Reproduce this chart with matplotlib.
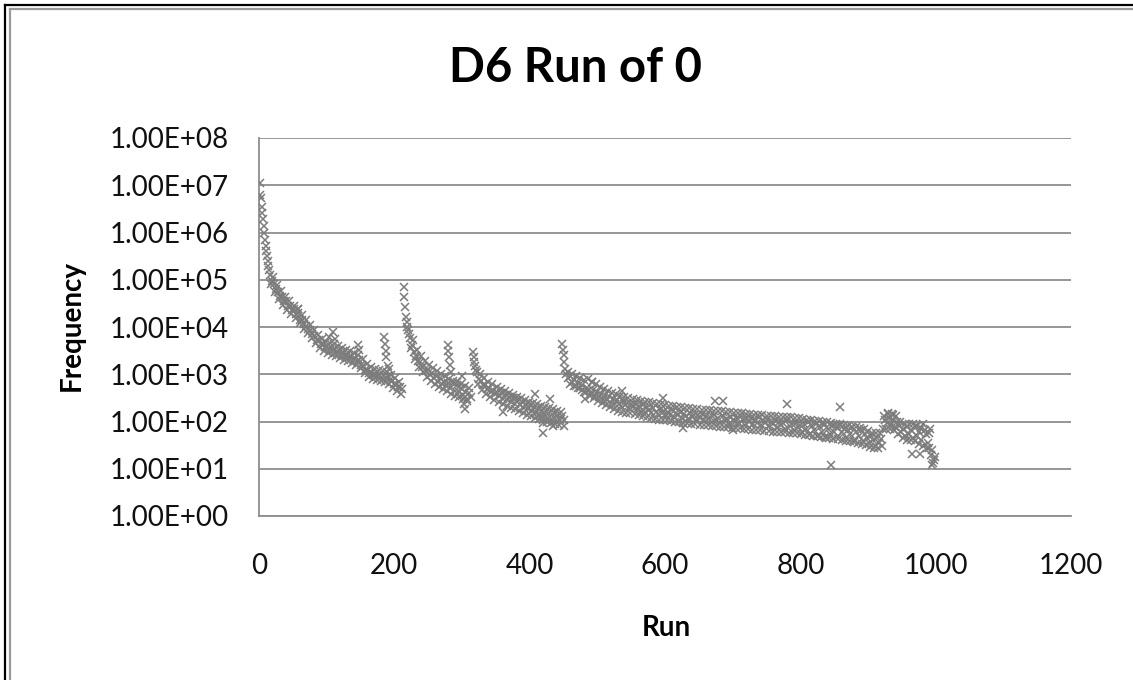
import matplotlib
matplotlib.use("Agg")
import matplotlib.pyplot as plt
from matplotlib.lines import Line2D
from matplotlib.ticker import FuncFormatter, NullLocator
import numpy as np

plt.rcParams["font.family"] = ["Lato", "DejaVu Sans"]

# 数据:游程长度 -> 频数(从图上读出,按段存放,每段每隔 3 个游程一列)
early_runs = [1, 2, 3, 4, 5, 6, 7, 8, 9, 10, 11, 12, 13, 14, 15]
early_freq = [1.1e7, 6.3e6, 5.4e6, 3.5e6, 2.6e6, 1.9e6, 1.35e6, 1.0e6,
              7.1e5, 5.2e5, 4.0e5, 3.2e5, 2.5e5, 2.0e5, 1.6e5]

STEP = 3
seg1_start = 16
seg1_freq = [1.26e5, 9.5e4, 8.3e4, 6.3e4, 5.6e4, 4.6e4, 4.4e4, 3.5e4, 3.5e4, 2.8e4,
             2.75e4, 2.3e4, 2.35e4, 1.9e4, 2.0e4, 1.4e4, 1.38e4, 1.15e4, 1.07e4, 8900,
             8500, 7100, 6600, 5400, 5200, 4400, 4300, 3800, 4000, 3500,
             3700, 3200, 3500, 3000, 3200, 2700, 2900, 2500, 2600, 2300,
             2400, 2100, 2200, 1900, 2000, 1600, 1500, 1260, 1260, 1070,
             1100, 950, 1000, 910, 980, 870, 930, 850, 910, 760,
             720, 630, 620, 550, 525, 480]
seg1b_start = 18
seg1b_freq = [8.1e4, 1.13e5, 5.4e4, 7.7e4, 3.85e4, 5.7e4, 2.9e4, 4.4e4, 2.3e4, 3.5e4,
              1.85e4, 2.85e4, 1.55e4, 2.35e4, 1.2e4, 1.8e4, 9200, 1.43e4, 7300, 1.12e4,
              5800, 8800, 4500, 6900, 3600, 5600, 3100, 4900, 2800, 4600,
              2600, 4300, 2400, 3900, 2200, 3600, 2050, 3300, 1900, 3050,
              1730, 2800, 1580, 2550, 1350, 2080, 1080, 1660, 880, 1400,
              785, 1290, 740, 1220, 710, 1170, 680, 1120, 615, 960,
              520, 820, 450, 700, 385]

seg2_start = 214
seg2_freq = [70000, 16000, 8500, 5800, 4200, 2900, 2400, 1900, 1800, 1450,
             1500, 1150, 1250, 950, 1050, 820, 900, 700, 820, 620,
             700, 560, 650, 500, 650, 450, 600, 420, 520, 360,
             430, 300, 400, 330]
seg2b_start = 224
seg2b_freq = [3600, 5200, 2070, 3200, 1430, 2450, 1100, 1930, 890, 1580,
              735, 1330, 630, 1150, 550, 1010, 485, 900, 435, 810,
              390, 730, 355, 670, 330, 620, 300, 560, 270, 500]

seg3_start = 316
seg3_freq = [2900, 1500, 1100, 780, 720, 580, 600, 480, 520, 420,
             470, 380, 430, 340, 400, 300, 360, 280, 330, 260,
             310, 230, 280, 220, 260, 190, 240, 180, 220, 170,
             200, 150, 190, 140, 175, 130, 165, 120, 160, 115,
             150, 110, 140, 105, 130, 110]
seg3b_start = 324
seg3b_freq = [610, 1030, 465, 830, 385, 700, 330, 615, 290, 545,
              265, 490, 235, 440, 215, 405, 195, 370, 180, 335,
              165, 310, 150, 285, 140, 265, 130, 245, 120, 230,
              115, 215, 107, 205, 100, 190, 95, 180, 90, 170,
              84, 160, 80]

seg4_start = 454
seg4_freq = [1000, 820, 900, 700, 760, 560, 640, 520, 580, 430,
             520, 470, 380, 460, 350, 420, 330, 390, 300, 360,
             280, 340, 250, 300, 230, 290, 240, 210, 270, 220,
             250, 190, 240, 200, 230, 180, 210, 170, 220, 160,
             200, 175, 150, 190, 160, 145, 180, 150, 170, 135,
             160, 140, 175, 125, 150, 135, 160, 120, 145, 130,
             115, 150, 125, 140, 110, 135, 120, 145, 105, 130,
             115, 125, 100, 140, 110, 120, 95, 130, 105, 115,
             90, 125, 110, 100, 120, 95, 130, 105, 85, 115,
             100, 120, 90, 110, 95, 125, 85, 105, 95, 115,
             80, 100, 90, 110, 75, 100, 85, 95, 70, 105,
             80, 90, 65, 95, 75, 85, 60, 90, 70, 100,
             55, 80, 65, 90, 50, 75, 60, 85, 45, 70,
             55, 80, 60, 75, 50, 85, 60, 70, 45, 65,
             55, 75, 40, 60, 50, 65, 38, 55, 45, 35,
             50, 40, 30, 45, 35, 42, 70, 110, 95, 120,
             85, 105, 75, 100, 80, 60, 70, 50, 75, 55,
             65, 45, 80, 50, 60, 40, 90, 55, 35, 70,
             25, 15]
seg4b_start = 456
seg4b_freq = [1100, 630, 1000, 570, 900, 520, 830, 470, 770, 430,
              780, 350, 700, 310, 610, 275, 550, 250, 490, 220,
              435, 200, 405, 185, 375, 170, 350, 160, 330, 155,
              320, 148, 305, 141, 290, 134, 275, 128, 265, 123,
              255, 118, 245, 114, 235, 110, 230, 108, 225, 105,
              218, 102, 212, 99, 206, 96, 200, 94, 195, 91,
              190, 88, 185, 87, 182, 85, 178, 84, 175, 83,
              172, 81, 170, 80, 167, 78, 164, 77, 160, 76,
              158, 74, 155, 73, 152, 72, 150, 70, 146, 69,
              143, 67, 140, 66, 138, 65, 135, 63, 132, 62,
              129, 61, 128, 60, 126, 59, 125, 59, 123, 58,
              122, 57, 119, 56, 116, 55, 113, 53, 110, 52,
              107, 50, 104, 49, 101, 48, 99, 46, 96, 45,
              93, 43, 90, 42, 87, 41, 84, 39, 81, 38,
              78, 37, 75, 35, 72, 34, 70, 32, 64, 29,
              58, 28, 58, 28, 58, 31, 130, 69, 145, 69,
              145, 66, 130, 55, 100, 45, 87, 41, 87, 41,
              87, 38, 80, 34, 72, 31, 65, 28, 58, 20,
              13]

# 尖峰、段首陡降和零散离群点
extra_runs = [57, 103, 110, 113, 146, 148, 185, 186, 187, 188, 190, 192,
              215, 216, 218, 219, 221,
              279, 280, 281, 282, 284, 300, 303, 305,
              317, 318, 320, 360, 408, 420, 420, 430, 435,
              448, 449, 450, 451, 452,
              482, 492, 536, 597, 627, 674, 686, 700, 780, 845, 858,
              930, 937, 965, 977, 990, 995, 999]
extra_freq = [24000, 6200, 8000, 5500, 4200, 3200, 6000, 4400, 3100, 2300, 1500, 1300,
              43000, 27000, 12500, 10000, 7000,
              4200, 3100, 2300, 1600, 1100, 900, 230, 180,
              2300, 1800, 1250, 160, 380, 58, 95, 300, 80,
              4300, 3300, 2600, 1800, 1300,
              300, 670, 440, 320, 72, 270, 270, 66, 230, 12, 200,
              150, 140, 21, 21, 28, 12, 18]

MARK = "#7c7c7c"
GRID = "#8e8e8e"

W, H = 1133, 680
fig = plt.figure(figsize=(W / 100, H / 100), dpi=100)
ax = fig.add_axes([259 / W, 1 - 516 / H, (1071 - 259) / W, (516 - 138) / H])

runs_all = [np.asarray(early_runs, float)]
freq_all = [np.asarray(early_freq, float)]
for start, f in [(seg1_start, seg1_freq), (seg1b_start, seg1b_freq),
                 (seg2_start, seg2_freq), (seg2b_start, seg2b_freq),
                 (seg3_start, seg3_freq), (seg3b_start, seg3b_freq),
                 (seg4_start, seg4_freq), (seg4b_start, seg4b_freq)]:
    runs_all.append(np.arange(start, start + STEP * len(f), STEP, dtype=float))
    freq_all.append(np.asarray(f, float))
runs_all.append(np.asarray(extra_runs, float))
freq_all.append(np.asarray(extra_freq, float))
x = np.concatenate(runs_all)
y = np.concatenate(freq_all)

ax.plot(x, y, ls="none", marker="x", ms=6.3, mew=1.1, color=MARK, zorder=3)

ax.set_yscale("log")
ax.set_ylim(1, 1e8)
ax.set_xlim(0, 1200)
ax.set_yticks([10.0 ** k for k in range(9)])
ax.yaxis.set_minor_locator(NullLocator())
ax.yaxis.set_major_formatter(FuncFormatter(lambda v, p: f"{v:.2E}"))
ax.set_xticks(range(0, 1201, 200))
ax.tick_params(length=0, labelsize=20, labelcolor="#111111")
ax.tick_params(axis="y", pad=22)
ax.tick_params(axis="x", pad=27)
ax.set_axisbelow(True)
ax.grid(axis="y", color=GRID, lw=1.3)
for s in ("top", "right"):
    ax.spines[s].set_visible(False)
for s in ("left", "bottom"):
    ax.spines[s].set_color(GRID)
    ax.spines[s].set_linewidth(1.3)

fig.text(575 / W, 1 - 68 / H, "D6 Run of 0", ha="center", va="center",
         fontsize=34, fontweight="bold")
fig.text(72 / W, 1 - 325 / H, "Frequency", ha="center", va="center",
         rotation=90, fontsize=20, fontweight="bold")
fig.text(666 / W, 1 - 628 / H, "Run", ha="center", va="center",
         fontsize=20, fontweight="bold")

# 外框(左、上两边可见)
fig.add_artist(Line2D([5.5 / W, 5.5 / W], [0, 1 - 5 / H], color="black", lw=1.6))
fig.add_artist(Line2D([5.5 / W, 1], [1 - 5 / H, 1 - 5 / H], color="black", lw=1.6))
fig.add_artist(Line2D([10 / W, 10 / W], [0, 1 - 9 / H], color="#9a9a9a", lw=1.6))
fig.add_artist(Line2D([10 / W, 1], [1 - 9 / H, 1 - 9 / H], color="#9a9a9a", lw=1.6))

fig.savefig("out.png", dpi=100)
